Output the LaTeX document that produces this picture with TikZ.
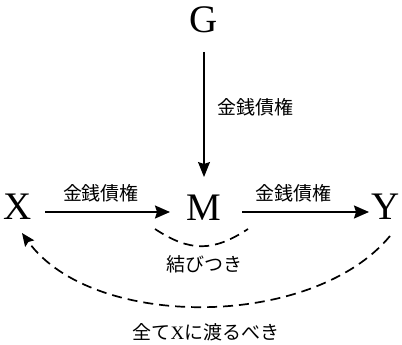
\documentclass[tikz,border=0pt]{standalone}
\usepackage{fontspec}
\setmainfont{Liberation Serif}
\newfontfamily\jfont{Noto Sans CJK JP}
\usetikzlibrary{arrows.meta}
\tikzset{
  big/.style={font=\fontsize{39}{41}\selectfont, inner sep=0pt},
  lab/.style={font=\jfont\fontsize{19}{21}\selectfont, inner sep=0pt},
  solidarrow/.style={line width=1.8pt, -{Stealth[length=15pt,width=13pt,inset=2pt]}},
  thinarrow/.style={line width=1.1pt, -{Stealth[length=15pt,width=12pt,inset=2pt]}},
  dashline/.style={line width=1.7pt, dash pattern=on 10pt off 6pt},
}
\begin{document}
\begin{tikzpicture}[x=1pt,y=-1pt]
\useasboundingbox (0,0) rectangle (402,345);
\node[big] (G) at (204,20) {G};
\node[big] (M) at (204,208) {M};
\node[big] (X) at (18,207) {X};
\node[big] (Y) at (386,207) {Y};
\coordinate (gs) at (204,52);
\coordinate (me) at (204,177);
\draw[thinarrow] (gs) -- (me);
\coordinate (xs) at (45,212);
\coordinate (xe) at (170,212);
\coordinate (ms) at (242,212);
\coordinate (ye) at (369,212);
\draw[solidarrow] (xs) -- (xe);
\draw[solidarrow] (ms) -- (ye);
\node[lab] (l1) at (255,107) {金銭債権};
\node[lab] (l2) at (101,193) {金銭債権};
\node[lab] (l3) at (293,193) {金銭債権};
\coordinate (a1) at (155,229);
\coordinate (a2) at (248,229);
\draw[dashline] (a1) .. controls (190,252) and (213,252) .. (a2);
\node[lab] (l4) at (204,264) {結びつき};
\coordinate (b1) at (390,236);
\coordinate (b2) at (22,233);
\draw[dashline, -{Stealth[length=13pt,width=11pt,inset=2pt]}] (b1) .. controls (312,330) and (92,330) .. (b2);
\node[lab] (l5) at (206,332) {全て{\rmfamily X}に渡るべき};
\end{tikzpicture}
\end{document}
